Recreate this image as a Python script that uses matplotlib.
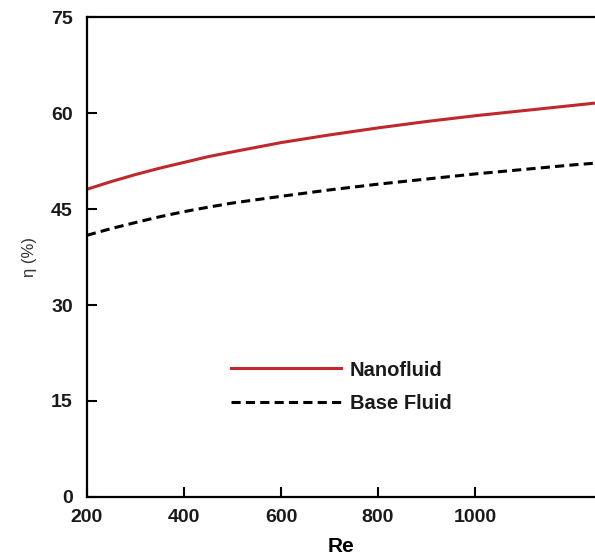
import matplotlib
matplotlib.use('Agg')
import matplotlib.pyplot as plt

# data
re = [200, 250, 300, 350, 400, 450, 500, 600, 700, 800, 900, 1000, 1100, 1200, 1250]
nanofluid = [48.1, 49.3, 50.4, 51.4, 52.3, 53.2, 53.95, 55.4, 56.6, 57.7, 58.7, 59.6, 60.4, 61.2, 61.6]
base_fluid = [40.9, 41.95, 42.9, 43.8, 44.6, 45.3, 45.95, 47.0, 48.0, 48.9, 49.7, 50.5, 51.2, 51.9, 52.2]

yticks = [0, 15, 30, 45, 60, 75]
xticks = [200, 400, 600, 800, 1000]

plt.rcParams['font.family'] = ['Liberation Sans', 'DejaVu Sans']

fig = plt.figure(figsize=(5.95, 5.57), dpi=100)
ax = fig.add_axes([0.146, 0.108, 0.854, 0.861])

ax.plot(re, nanofluid, color='#c0282d', lw=2.2, label='Nanofluid')
ax.plot(re, base_fluid, color='black', lw=2.2, dashes=(3.0, 1.7), label='Base Fluid')

ax.set_xlim(200, 1247)
ax.set_ylim(0, 75)
ax.set_xticks(xticks)
ax.set_yticks(yticks)
ax.tick_params(direction='in', length=7, width=1.5, labelsize=14)
ax.tick_params(axis='y', pad=10)
ax.tick_params(axis='x', pad=9)
for lab in ax.get_xticklabels() + ax.get_yticklabels():
    lab.set_fontweight('bold')
    lab.set_color('#1a1a1a')

ax.spines['right'].set_visible(False)
for s in ['left', 'bottom', 'top']:
    ax.spines[s].set_linewidth(1.6)

ax.set_xlabel('Re', fontsize=15, fontweight='bold', labelpad=8)
ax.set_ylabel('η (%)', fontsize=12, color='#333333', labelpad=10)

leg = ax.legend(loc='upper left', bbox_to_anchor=(0.248, 0.322), frameon=False,
                handlelength=5.45, handletextpad=0.45, labelspacing=0.72,
                prop={'size': 14.5, 'weight': 'bold'})
for t in leg.get_texts():
    t.set_color('#1a1a1a')

fig.savefig('out.png', dpi=100)
